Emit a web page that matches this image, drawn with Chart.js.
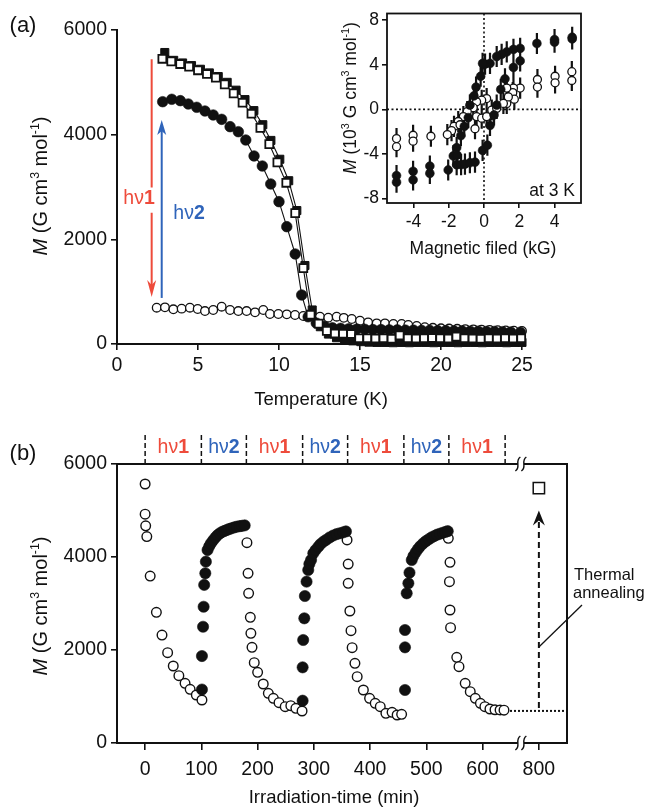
<!DOCTYPE html>
<html>
<head>
<meta charset="utf-8">
<title>Magnetization chart</title>
<script src="https://cdn.jsdelivr.net/npm/chart.js@4.4.1/dist/chart.umd.min.js"></script>
<style>
html,body{margin:0;padding:0;background:#ffffff;}
#page{position:relative;width:651px;height:808px;overflow:hidden;background:#fff;}
#page canvas{position:absolute;left:0;}
</style>
</head>
<body>
<div id="page">
<canvas id="chartA" width="651" height="420" style="top:0;width:651px;height:420px;"></canvas>
<canvas id="chartInset" width="651" height="420" style="top:0;width:651px;height:420px;"></canvas>
<canvas id="chartB" width="651" height="388" style="top:420px;width:651px;height:388px;"></canvas>
</div>
<script>
const FONT = "'Liberation Sans', Arial, Helvetica, sans-serif";
const INK = '#111111';
const RED = '#EE4B3B';
const BLUE = '#2F64BA';

// ---------- Panel (a): M vs temperature ----------
const tempTicks = [0, 5, 10, 15, 20, 25];
const magTicksA = [0, 2000, 4000, 6000];

const tempOpenSq = [2.8,3.35,3.9,4.45,5.0,5.55,6.1,6.65,7.2,7.75,8.3,8.85,9.4,9.9,10.45,11.0,11.5,11.95,12.45,12.95,13.45,13.95,14.45,14.95,15.45,15.95,16.45,16.95,17.45,17.95,18.45,18.95,19.45,19.95,20.45,20.95,21.45,21.95,22.45,22.95,23.45,23.95,24.45,24.95];
const magOpenSq  = [5450,5400,5350,5300,5230,5160,5090,4960,4790,4610,4400,4130,3820,3470,3080,2500,1450,560,390,250,200,195,190,110,110,105,110,100,165,110,105,110,115,110,105,140,110,105,100,110,105,110,105,110];

const tempFilledSq = [2.95,3.5,4.05,4.6,5.15,5.7,6.25,6.8,7.35,7.9,8.45,9.0,9.5,10.05,10.6,11.1,11.6,12.05,12.55,13.05,13.55,14.05,14.55,15.05,15.55,16.05,16.55,17.05,17.55,18.05,18.55,19.05,19.55,20.05,20.55,21.05,21.55,22.05,22.55,23.05,23.55,24.05,24.55,25.0];
const magFilledSq  = [5570,5420,5370,5320,5250,5180,5110,5000,4850,4670,4460,4190,3890,3530,3120,2550,1500,650,330,190,120,80,60,45,35,30,30,25,30,25,30,30,25,30,30,25,30,30,25,30,30,25,30,30];

const tempFilledCirc = [2.82,3.38,3.91,4.40,4.92,5.43,5.94,6.46,6.98,7.49,7.95,8.46,8.97,9.49,10.0,10.48,11.0,11.4,11.8,12.3,12.8,13.3,13.8,14.3,14.8,15.3,15.8,16.3,16.8,17.3,17.8,18.3,18.8,19.3,19.8,20.3,20.8,21.3,21.8,22.3,22.8,23.3,23.8,24.3,24.9];
const magFilledCirc  = [4630,4676,4650,4586,4523,4452,4376,4293,4153,4057,3898,3593,3401,3058,2720,2242,1720,936,520,400,340,310,300,290,285,280,275,275,270,270,265,265,260,260,255,255,250,250,245,245,240,240,235,230,225];

const tempOpenCirc = [2.45,2.96,3.48,3.99,4.5,4.98,5.43,5.94,6.46,6.98,7.49,8.0,8.52,9.03,9.44,9.96,10.48,10.99,11.5,12.02,12.53,13.04,13.56,14.0,14.49,15.0,15.5,16.03,16.54,17.06,17.57,17.98,18.5,19.0,19.5,20.0,20.5,21.0,21.5,22.0,22.5,23.0,23.5,24.0,24.5,25.0];
const magOpenCirc  = [694,700,663,675,694,669,630,650,713,650,630,630,605,650,573,573,567,554,535,535,522,503,522,500,478,446,414,395,395,382,382,363,345,320,310,300,295,290,285,280,275,270,265,260,255,250];

// photo-switching arrows in (a)
const hv1T = 2.14, hv1From = 5440, hv1To = 900, hv1GapHi = 2990, hv1GapLo = 2510;
const hv2T = 2.76, hv2From = 880, hv2To = 4280;

// ---------- Inset: M vs field at 3 K ----------
const fieldTicks = [-4, -2, 0, 2, 4];
const insetMagTicks = [-8, -4, 0, 4, 8];
const fieldFilled = [5,5,4,4,3,2.05,1.67,1.29,1.0,0.72,0.34,0.06,-0.08,-0.19,-0.45,-0.57,-0.8,-0.89,-1.12,-1.31,-1.55,-1.74,-1.52,-2.03,-3.07,-3.07,-4.02,-4.02,-4.96,-4.96,-1.55,-1.3,-1.08,-0.8,-0.51,-0.08,0.19,0.34,0.57,0.72,0.95,1.19,1.67,2.05];
const insetMagFilled = [6.47,6.32,6.26,6.03,5.91,5.47,5.38,5.15,4.94,4.74,4.12,4.06,4.12,2.97,2.0,1.21,0.38,-0.74,-1.53,-2.35,-3.44,-4.18,-4.1,-5.44,-5.74,-5.09,-6.32,-5.56,-6.53,-5.94,-4.97,-4.95,-4.91,-4.79,-4.74,-3.68,-3.21,-1.44,-0.5,0.38,1.79,2.74,3.76,4.35];
const fieldOpen = [4.98,4.98,4.03,4.03,3.03,3.03,2.05,1.67,1.63,1.72,1.29,1.38,1.29,0.44,0.15,-0.13,-0.42,-0.61,-0.95,-1.17,-1.46,-1.7,-1.84,-2.08,-3.01,-4.02,-4.02,-4.96,-4.96,-0.42,-0.51,-0.13,0.15,0.72,1.1,-1.36];
const insetMagOpen = [3.38,2.59,2.97,2.38,2.68,2.0,1.91,1.91,1.5,0.91,0.53,1.12,1.91,-0.06,0.97,0.82,0.68,0.15,-0.21,-0.65,-1.09,-1.53,-1.91,-2.26,-2.41,-2.32,-2.85,-2.62,-3.35,-0.65,-1.74,-0.79,-0.65,0.09,0.53,-1.38];
const errFilled = 0.95;
const errOpen = 0.95;

// ---------- Panel (b): M vs irradiation time ----------
const timeTicks = [0, 100, 200, 300, 400, 500, 600, 800];
const magTicksB = [0, 2000, 4000, 6000];
const phaseEdges = [0, 100, 180, 280, 360, 460, 540, 640];
const phaseNames = ['1', '2', '1', '2', '1', '2', '1'];

const tOpen1 = [0,0,1,3,9,20,30,40,50,60,71,80,91,101];
const mOpen1 = [5570,4920,4670,4440,3590,2810,2320,1943,1656,1448,1283,1154,1032,925];
const tOpen2 = [181,183,184,187,188,190,194,200,210,219,228,238,249,259,268,279];
const mOpen2 = [4308,3649,3219,2703,2359,2057,1728,1520,1269,1068,961,867,781,803,745,688];
const tOpen3 = [359,361,361,364,366,368,373,377,388,399,409,418,428,439,448,456];
const mOpen3 = [4366,3849,3434,2839,2415,2050,1713,1426,1140,961,853,781,638,660,602,616];
const tOpen4 = [539,542,541,542,543,554,558,569,578,587,596,604,613,622,631,638];
const mOpen4 = [4402,3885,3470,2860,2480,1842,1641,1283,1104,961,853,781,731,715,710,705];

const tFill1 = [101,101,103,104,105,107,108,111,114,117,121,125,129,133,137,141,145,149,153,158,163,168,172,177];
const mFill1 = [1150,1870,2500,2930,3400,3650,3900,4150,4230,4294,4360,4420,4473,4510,4540,4560,4580,4600,4615,4635,4652,4662,4670,4680];
const tFill2 = [280,280,281,283,284,287,290,292,295,299,303,308,312,317,322,328,334,340,346,352,357];
const mFill2 = [910,1627,2215,2681,3161,3470,3720,3850,3935,4079,4150,4222,4280,4330,4370,4420,4460,4490,4510,4530,4550];
const tFill3 = [462,462,462,465,468,470,474,477,481,485,489,494,499,504,509,514,519,524,529,534,538];
const mFill3 = [1140,2057,2430,3219,3434,3663,3935,4020,4100,4170,4230,4290,4340,4380,4420,4450,4480,4500,4520,4540,4555];

const tAnneal = [800];
const mAnneal = [5480];
const finalLevel = 690;     // dotted level after the last hv1 run
const arrowTipM = 5000;     // dashed annealing arrow tip
const leaderM = 2065;       // where the label leader meets the arrow
const BREAK_SHIFT = 100;    // axis break: 800 min drawn where 700 would be
const BREAK_LIMIT = 700;
const breakMark = 668;      // axis-unit position of the break symbol

function plotT(t){ return t >= BREAK_LIMIT ? t - BREAK_SHIFT : t; }
function pts(xs, ys, fx){ return xs.map((v,i)=>({x: fx ? fx(v) : v, y: ys[i]})); }

// ---------- drawing helpers ----------
function fontFor(s, size){
  const sz = s.sup ? size*0.62 : size;
  return (s.it?'italic ':'') + (s.b?'bold ':'') + sz.toFixed(1) + 'px ' + FONT;
}
function drawRich(ctx, segs, x, y, size, opt){
  opt = opt || {};
  const align = opt.align || 'center';
  ctx.save();
  ctx.translate(x, y);
  if (opt.rot) ctx.rotate(opt.rot);
  let w = 0;
  for (const s of segs){ ctx.font = fontFor(s,size); w += ctx.measureText(s.t).width; }
  let cx = align==='center' ? -w/2 : (align==='right' ? -w : 0);
  ctx.textAlign = 'left'; ctx.textBaseline = 'alphabetic';
  const base = size*0.36;
  for (const s of segs){
    ctx.font = fontFor(s,size);
    ctx.fillStyle = s.c || opt.color || INK;
    ctx.fillText(s.t, cx, base + (s.sup ? -size*0.42 : 0));
    cx += ctx.measureText(s.t).width;
  }
  ctx.restore();
}
function arrowHead(ctx, x, tipY, dir, len, half, notch, color){
  ctx.beginPath();
  ctx.moveTo(x, tipY);
  ctx.lineTo(x-half, tipY - dir*len);
  ctx.lineTo(x, tipY - dir*(len-notch));
  ctx.lineTo(x+half, tipY - dir*len);
  ctx.closePath();
  ctx.fillStyle = color;
  ctx.fill();
}
function makeAxis(o){
  return {
    type: 'linear', min: o.min, max: o.max,
    afterBuildTicks: s => { s.ticks = o.ticks.map(v => ({value: o.map ? o.map(v) : v})); },
    afterFit: s => { if (o.width != null) s.width = o.width; if (o.height != null) s.height = o.height; },
    ticks: { color: INK, font: {family: FONT, size: o.font}, padding: o.pad, maxRotation: 0, minRotation: 0, autoSkip: false,
             callback: (v, i) => String(o.ticks[i]) },
    grid: { display: true, drawOnChartArea: false, drawTicks: true, tickLength: o.tick, color: INK, lineWidth: 1.6 },
    border: { display: o.border !== false, color: INK, width: 2 }
  };
}
const yTitleSegs = [{t:'M',it:true},{t:' (G cm'},{t:'3',sup:true},{t:' mol'},{t:'-1',sup:true},{t:')'}];
const insetTitleSegs = [{t:'M',it:true},{t:' (10'},{t:'3',sup:true},{t:' G cm'},{t:'3',sup:true},{t:' mol'},{t:'-1',sup:true},{t:')'}];
const baseOpts = { responsive:false, animation:false, events:[], devicePixelRatio:1,
  plugins:{legend:{display:false}, tooltip:{enabled:false}} };

// ---------- Panel (a) ----------
const panelADecor = {
  id: 'panelADecor',
  afterDraw(chart){
    const {ctx, scales:{x, y}} = chart;
    ctx.save();
    const xr = x.getPixelForValue(hv1T);
    const yrTop = y.getPixelForValue(hv1From), yrTip = y.getPixelForValue(hv1To);
    ctx.strokeStyle = RED; ctx.lineWidth = 2;
    ctx.beginPath();
    ctx.moveTo(xr, yrTop); ctx.lineTo(xr, y.getPixelForValue(hv1GapHi));
    ctx.moveTo(xr, y.getPixelForValue(hv1GapLo)); ctx.lineTo(xr, yrTip - 10);
    ctx.stroke();
    arrowHead(ctx, xr, yrTip, 1, 17, 4.5, 5, RED);
    const xb = x.getPixelForValue(hv2T);
    const ybBot = y.getPixelForValue(hv2From), ybTip = y.getPixelForValue(hv2To);
    ctx.strokeStyle = BLUE;
    ctx.beginPath(); ctx.moveTo(xb, ybBot); ctx.lineTo(xb, ybTip + 10); ctx.stroke();
    arrowHead(ctx, xb, ybTip, -1, 15, 4.5, 4, BLUE);
    drawRich(ctx, [{t:'h\u03BD', c:RED},{t:'1', b:true, c:RED}], 139, 197, 19.5);
    drawRich(ctx, [{t:'h\u03BD', c:BLUE},{t:'2', b:true, c:BLUE}], 189, 212, 19.5);
    drawRich(ctx, [{t:'Temperature (K)'}], 321, 398, 18.5);
    drawRich(ctx, yTitleSegs, 40, 186, 20, {rot: -Math.PI/2});
    drawRich(ctx, [{t:'(a)'}], 23, 24, 22);
    ctx.restore();
  }
};

new Chart(document.getElementById('chartA'), {
  type: 'scatter',
  data: { datasets: [
    { data: pts(tempOpenSq, magOpenSq), showLine: true, borderColor: INK, borderWidth: 1.1,
      pointStyle: 'rect', pointRadius: 5.6, pointBackgroundColor: '#fff', pointBorderColor: INK, pointBorderWidth: 1.8, order: 1, clip: false },
    { data: pts(tempFilledSq, magFilledSq), showLine: true, borderColor: INK, borderWidth: 1.1,
      pointStyle: 'rect', pointRadius: 5.7, pointBackgroundColor: INK, pointBorderColor: INK, pointBorderWidth: 1, order: 2, clip: false },
    { data: pts(tempFilledCirc, magFilledCirc), showLine: true, borderColor: INK, borderWidth: 1.1,
      pointStyle: 'circle', pointRadius: 5.3, pointBackgroundColor: INK, pointBorderColor: INK, pointBorderWidth: 0.6, order: 3, clip: false },
    { data: pts(tempOpenCirc, magOpenCirc), showLine: false,
      pointStyle: 'circle', pointRadius: 4.3, pointBackgroundColor: '#fff', pointBorderColor: INK, pointBorderWidth: 1.3, order: 4, clip: false }
  ]},
  options: Object.assign({}, baseOpts, {
    layout: { padding: { left: 57, right: 129, top: 30, bottom: 36 } },
    scales: {
      x: makeAxis({min:0, max:25, ticks: tempTicks, font:19.5, pad:4, tick:6, height:40}),
      y: makeAxis({min:0, max:6000, ticks: magTicksA, font:19.5, pad:4, tick:6, width:60})
    }
  }),
  plugins: [panelADecor]
});

// ---------- Inset ----------
const insetDecor = {
  id: 'insetDecor',
  beforeDatasetsDraw(chart){
    const {ctx, chartArea:a, scales:{x, y}} = chart;
    ctx.save();
    ctx.strokeStyle = INK; ctx.lineWidth = 1.6; ctx.setLineDash([2, 2.5]);
    const x0 = x.getPixelForValue(0), y0 = y.getPixelForValue(0);
    ctx.beginPath(); ctx.moveTo(x0, a.top); ctx.lineTo(x0, a.bottom); ctx.moveTo(a.left, y0); ctx.lineTo(a.right, y0); ctx.stroke();
    ctx.setLineDash([]);
    ctx.lineWidth = 2.2;
    const bars = [[fieldOpen, insetMagOpen, errOpen], [fieldFilled, insetMagFilled, errFilled]];
    ctx.beginPath();
    for (const [fx, fy, e] of bars){
      fx.forEach((v, i) => {
        const px = x.getPixelForValue(v);
        ctx.moveTo(px, y.getPixelForValue(fy[i] + e));
        ctx.lineTo(px, y.getPixelForValue(fy[i] - e));
      });
    }
    ctx.stroke();
    ctx.restore();
  },
  afterDraw(chart){
    const {ctx, chartArea:a} = chart;
    ctx.save();
    ctx.strokeStyle = INK; ctx.lineWidth = 1.8;
    ctx.strokeRect(a.left, a.top, a.right - a.left, a.bottom - a.top);
    drawRich(ctx, [{t:'at 3 K'}], 575, 190, 17.5, {align:'right'});
    drawRich(ctx, [{t:'Magnetic filed (kG)'}], 483, 248, 17.5);
    drawRich(ctx, insetTitleSegs, 350, 98, 17.5, {rot: -Math.PI/2});
    ctx.restore();
  }
};

new Chart(document.getElementById('chartInset'), {
  type: 'scatter',
  data: { datasets: [
    { data: pts(fieldFilled, insetMagFilled), pointStyle: 'circle', pointRadius: 4.4, pointBackgroundColor: INK,
      pointBorderColor: INK, pointBorderWidth: 0.6, order: 1, clip: false },
    { data: pts(fieldOpen, insetMagOpen), pointStyle: 'circle', pointRadius: 4, pointBackgroundColor: '#fff',
      pointBorderColor: INK, pointBorderWidth: 1.3, order: 2, clip: false }
  ]},
  options: Object.assign({}, baseOpts, {
    layout: { padding: { left: 347, right: 70, top: 10, bottom: 182 } },
    scales: {
      x: makeAxis({min:-5.5, max:5.5, ticks: fieldTicks, font:17.5, pad:4, tick:5, height:35, border:false}),
      y: makeAxis({min:-8.4, max:8.6, ticks: insetMagTicks, font:17.5, pad:3, tick:5, width:40, border:false})
    }
  }),
  plugins: [insetDecor]
});

// ---------- Panel (b) ----------
const panelBDecor = {
  id: 'panelBDecor',
  beforeDatasetsDraw(chart){
    const {ctx, chartArea:a, scales:{x, y}} = chart;
    ctx.save();
    ctx.strokeStyle = INK;
    const xs = x.getPixelForValue(tOpen4[tOpen4.length - 1]) + 6;
    const ye = y.getPixelForValue(finalLevel);
    ctx.lineWidth = 2; ctx.setLineDash([2, 2]);
    ctx.beginPath(); ctx.moveTo(xs, ye); ctx.lineTo(a.right, ye); ctx.stroke();
    const xa = x.getPixelForValue(plotT(tAnneal[0]));
    const yTip = y.getPixelForValue(arrowTipM);
    ctx.setLineDash([6, 4]);
    ctx.beginPath(); ctx.moveTo(xa, ye - 3); ctx.lineTo(xa, yTip + 10); ctx.stroke();
    ctx.setLineDash([]);
    arrowHead(ctx, xa, yTip, -1, 15, 6, 5, INK);
    ctx.lineWidth = 1.3;
    ctx.beginPath(); ctx.moveTo(xa, y.getPixelForValue(leaderM)); ctx.lineTo(582, 185); ctx.stroke();
    ctx.restore();
  },
  afterDraw(chart){
    const {ctx, chartArea:a, scales:{x}} = chart;
    ctx.save();
    ctx.strokeStyle = INK; ctx.lineWidth = 2; ctx.setLineDash([]);
    const bx = x.getPixelForValue(breakMark);
    ctx.beginPath();
    ctx.moveTo(a.left, a.top - 1); ctx.lineTo(a.left, a.bottom + 1);
    ctx.moveTo(a.right, a.top - 1); ctx.lineTo(a.right, a.bottom + 1);
    for (const yy of [a.top, a.bottom]){
      ctx.moveTo(a.left - 1, yy); ctx.lineTo(bx - 3, yy);
      ctx.moveTo(bx + 3, yy); ctx.lineTo(a.right + 1, yy);
    }
    ctx.stroke();
    ctx.lineWidth = 1.4;
    for (const yy of [a.top, a.bottom]){
      for (const dx of [-3, 3]){
        const cx = bx + dx;
        ctx.beginPath();
        ctx.moveTo(cx - 2.5, yy + 7);
        ctx.bezierCurveTo(cx + 3.5, yy + 3, cx - 3.5, yy - 3, cx + 2.5, yy - 7);
        ctx.stroke();
      }
    }
    ctx.lineWidth = 1.5; ctx.setLineDash([5, 3]);
    ctx.beginPath();
    for (const e of phaseEdges){
      const px = x.getPixelForValue(e);
      ctx.moveTo(px, 15); ctx.lineTo(px, a.top);
    }
    ctx.stroke();
    ctx.setLineDash([]);
    phaseNames.forEach((n, i) => {
      const cx = (x.getPixelForValue(phaseEdges[i]) + x.getPixelForValue(phaseEdges[i + 1])) / 2;
      const col = n === '1' ? RED : BLUE;
      drawRich(ctx, [{t:'h\u03BD', c:col}, {t:n, b:true, c:col}], cx, 26, 19.5);
    });
    drawRich(ctx, [{t:'Thermal'}], 574, 154, 16.5, {align:'left'});
    drawRich(ctx, [{t:'annealing'}], 573, 172, 16.5, {align:'left'});
    drawRich(ctx, [{t:'Irradiation-time (min)'}], 334, 376, 18.5);
    drawRich(ctx, yTitleSegs, 40, 186, 20, {rot: -Math.PI/2});
    drawRich(ctx, [{t:'(b)'}], 23, 32, 22);
    ctx.restore();
  }
};

new Chart(document.getElementById('chartB'), {
  type: 'scatter',
  data: { datasets: [
    { data: pts(tFill1, mFill1), pointStyle:'circle', pointRadius:5.6, pointBackgroundColor:INK, pointBorderColor:INK, pointBorderWidth:0.6, order:1, clip:false },
    { data: pts(tFill2, mFill2), pointStyle:'circle', pointRadius:5.6, pointBackgroundColor:INK, pointBorderColor:INK, pointBorderWidth:0.6, order:1, clip:false },
    { data: pts(tFill3, mFill3), pointStyle:'circle', pointRadius:5.6, pointBackgroundColor:INK, pointBorderColor:INK, pointBorderWidth:0.6, order:1, clip:false },
    { data: pts(tOpen1, mOpen1), pointStyle:'circle', pointRadius:4.8, pointBackgroundColor:'#fff', pointBorderColor:INK, pointBorderWidth:1.4, order:2, clip:false },
    { data: pts(tOpen2, mOpen2), pointStyle:'circle', pointRadius:4.8, pointBackgroundColor:'#fff', pointBorderColor:INK, pointBorderWidth:1.4, order:2, clip:false },
    { data: pts(tOpen3, mOpen3), pointStyle:'circle', pointRadius:4.8, pointBackgroundColor:'#fff', pointBorderColor:INK, pointBorderWidth:1.4, order:2, clip:false },
    { data: pts(tOpen4, mOpen4), pointStyle:'circle', pointRadius:4.8, pointBackgroundColor:'#fff', pointBorderColor:INK, pointBorderWidth:1.4, order:2, clip:false },
    { data: pts(tAnneal, mAnneal, plotT), pointStyle:'rect', pointRadius:8, pointBackgroundColor:'#fff', pointBorderColor:INK, pointBorderWidth:1.5, order:1, clip:false }
  ]},
  options: Object.assign({}, baseOpts, {
    layout: { padding: { left: 57, right: 84, top: 44, bottom: 20 } },
    scales: {
      x: makeAxis({min:-50, max:750, ticks: timeTicks, map: plotT, font:19.5, pad:8, tick:7, height:45, border:false}),
      y: makeAxis({min:0, max:6000, ticks: magTicksB, font:19.5, pad:4, tick:6, width:60, border:false})
    }
  }),
  plugins: [panelBDecor]
});
</script>
</body>
</html>
